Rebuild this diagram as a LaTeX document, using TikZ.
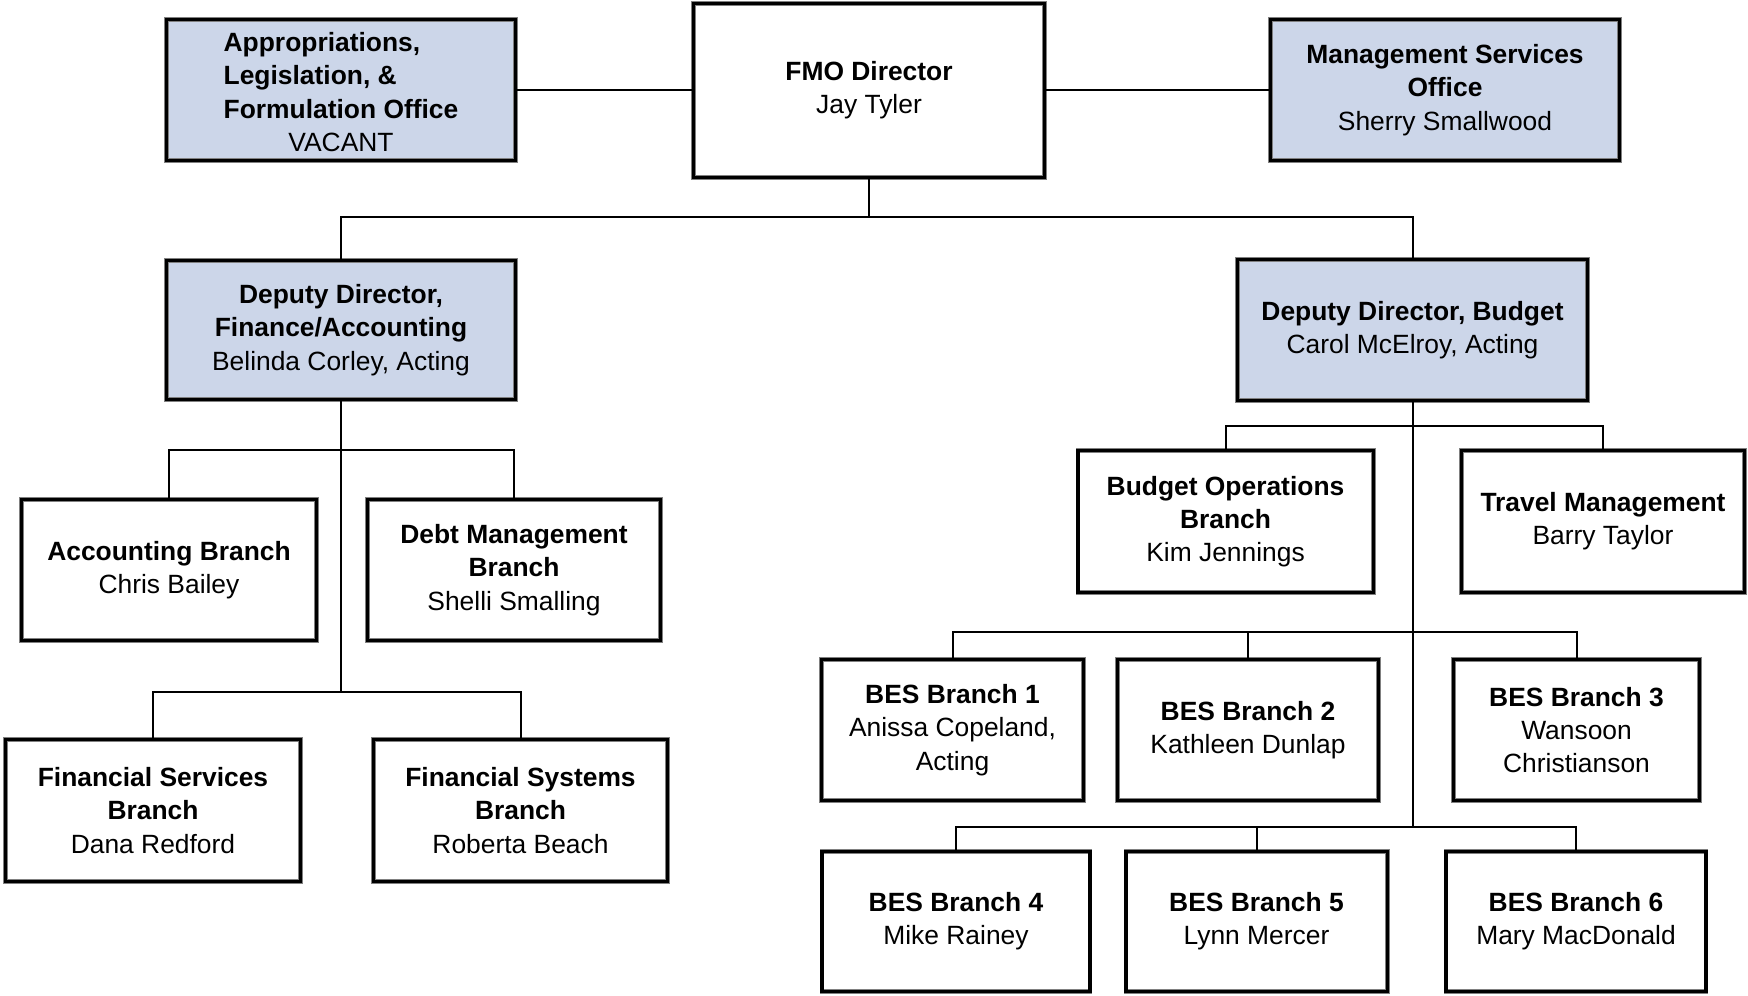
\documentclass[tikz,border=0pt]{standalone}
\usepackage{fontspec}
\setmainfont{Liberation Sans}
\usepackage{tikz}
\usetikzlibrary{positioning}
\definecolor{officeblue}{RGB}{204,214,233}

\begin{document}
\begin{tikzpicture}
[x=0.5pt, y=-0.5pt, font=\fontsize{13.2}{16.6}\selectfont,
% STYLES
% The unit style is the double-ruled box every unit is drawn in
unit/.style={rectangle, draw=black!50, double=black, double distance=1.6pt, line width=0.4pt, fill=white, align=center, inner sep=2pt, minimum width=147.6pt, minimum height=70.6pt},
% The office style is used for the offices right under the director
office/.style={unit, fill=officeblue, minimum width=174.6pt},
% The link style is used to draw the reporting lines
link/.style={line width=1pt}]

\useasboundingbox (0,0) rectangle (1748,995);

% Draw director and offices
\node [unit, minimum width=175.6pt, minimum height=87.1pt] (dir) at (869,90.5) {\textbf{FMO Director}\\Jay Tyler};
\node [office] (approp) at (341,90) {\textbf{\begin{tabular}[b]{@{}l@{}}Appropriations,\\Legislation, \&\\Formulation Office\end{tabular}}\\VACANT};
\node [office] (mso) at (1445,90) {\textbf{Management Services}\\\textbf{Office}\\Sherry Smallwood};
\node [office, minimum height=69.6pt] (depfin) at (341,330) {\textbf{Deputy Director,}\\\textbf{Finance/Accounting}\\Belinda Corley, Acting};
\node [office, minimum width=175pt] (depbud) at (1412.5,330) {\textbf{Deputy Director, Budget}\\Carol McElroy, Acting};

%%%%%%%%%%%%%%%
% Finance/Accounting branches
\node [unit] (acct) at (169,570) {\textbf{Accounting Branch}\\Chris Bailey};
\node [unit, minimum width=146.6pt] (debt) at (514,570) {\textbf{Debt Management}\\\textbf{Branch}\\Shelli Smalling};
\node [unit, minimum height=71pt] (finserv) at (153,810.5) {\textbf{Financial Services}\\\textbf{Branch}\\Dana Redford};
\node [unit, minimum width=147pt, minimum height=71pt] (finsys) at (520.5,810.5) {\textbf{Financial Systems}\\\textbf{Branch}\\Roberta Beach};

% Budget branches
\node [unit, minimum height=71pt] (budops) at (1225.5,521.5) {\textbf{Budget Operations}\\\textbf{Branch}\\Kim Jennings};
\node [unit, minimum width=141.6pt, minimum height=71pt] (travel) at (1603,521.5) {\textbf{Travel Management}\\Barry Taylor};

% BES branches
\node [unit, minimum width=131pt] (bes1) at (952.5,730) {\textbf{BES Branch 1}\\Anissa Copeland,\\Acting};
\node [unit, minimum width=130.6pt] (bes2) at (1248,730) {\textbf{BES Branch 2}\\Kathleen Dunlap};
\node [unit, minimum width=123pt] (bes3) at (1576.5,730) {\textbf{BES Branch 3}\\Wansoon\\Christianson};
\node [unit, minimum width=134pt, minimum height=70pt] (bes4) at (956,921.5) {\textbf{BES Branch 4}\\Mike Rainey};
\node [unit, minimum width=130.6pt, minimum height=70pt] (bes5) at (1256.5,921.5) {\textbf{BES Branch 5}\\Lynn Mercer};
\node [unit, minimum width=130pt, minimum height=70pt] (bes6) at (1576,921.5) {\textbf{BES Branch 6}\\Mary MacDonald};
%%%%%%%%%%%%%%%

% Junctions of the reporting lines
\coordinate (topbar) at (869,217);
\coordinate (finbar1) at (341,450);
\coordinate (finbar2) at (341,692);
\coordinate (budbar) at (1412.5,426);
\coordinate (besbar1) at (1412.5,632);
\coordinate (besbar2) at (1412.5,827);

% Draw the links between units
\draw [link] (approp.east) -- (approp.east -| dir.west);
\draw [link] (mso.west) -- (mso.west -| dir.east);
\draw [link] (dir.south) -- (topbar);
\draw [link] (depfin.north) |- (topbar) -| (depbud.north);
\draw [link] (depfin.south) -- (finbar2);
\draw [link] (acct.north) |- (finbar1) -| (debt.north);
\draw [link] (finserv.north) |- (finbar2) -| (finsys.north);
\draw [link] (depbud.south) -- (besbar2);
\draw [link] (budops.north) |- (budbar) -| (travel.north);
\draw [link] (bes1.north) |- (besbar1) -| (bes3.north);
\draw [link] (bes2.north) -- (bes2.north |- besbar1);
\draw [link] (bes4.north) |- (besbar2) -| (bes6.north);
\draw [link] (bes5.north) -- (bes5.north |- besbar2);

\end{tikzpicture}
\end{document}
